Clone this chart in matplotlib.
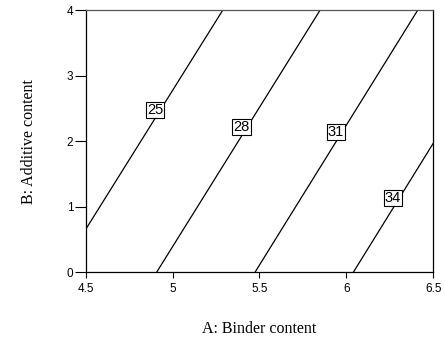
import matplotlib.pyplot as plt

# contour levels and their end points (x = binder, y = additive)
levels = ['25', '28', '31', '34']
x_start = [4.5, 4.908, 5.474, 6.040]
y_start = [0.656, 0.0, 0.0, 0.0]
x_end = [5.288, 5.848, 6.410, 6.5]
y_end = [4.0, 4.0, 4.0, 1.97]
# label box positions
label_x = [4.899, 5.398, 5.940, 6.268]
label_y = [2.478, 2.218, 2.142, 1.134]

x_ticks = [4.5, 5, 5.5, 6, 6.5]
x_ticklabels = ['4.5', '5', '5.5', '6', '6.5']
y_ticks = [0, 1, 2, 3, 4]

fig = plt.figure(figsize=(4.45, 3.38), dpi=100)
ax = fig.add_axes([0.1926, 0.1944, 0.781, 0.775])

for i in range(len(levels)):
    ax.plot([x_start[i], x_end[i]], [y_start[i], y_end[i]], color='black', lw=0.9, zorder=2)
    ax.text(label_x[i], label_y[i], levels[i], ha='center', va='center',
            fontsize=10.5, family='Liberation Sans', zorder=3,
            bbox=dict(boxstyle='square,pad=0.08', fc='white', ec='black', lw=0.8))

ax.set_xlim(4.5, 6.5)
ax.set_ylim(0, 4)
ax.set_xticks(x_ticks)
ax.set_xticklabels(x_ticklabels)
ax.set_yticks(y_ticks)
ax.tick_params(direction='out', width=0.8, labelsize=8.5)
ax.tick_params(axis='x', length=4.5, pad=3)
ax.tick_params(axis='y', length=8, pad=1)
for lab in ax.get_xticklabels() + ax.get_yticklabels():
    lab.set_family('Liberation Sans')

for s in ax.spines.values():
    s.set_linewidth(0.9)
ax.spines['top'].set_color('#555555')

ax.set_xlabel('A: Binder content', family='Liberation Serif', fontsize=11.5, labelpad=19)
ax.set_ylabel('B: Additive content', family='Liberation Serif', fontsize=11.5, labelpad=21)

fig.savefig('out.png', dpi=100)
